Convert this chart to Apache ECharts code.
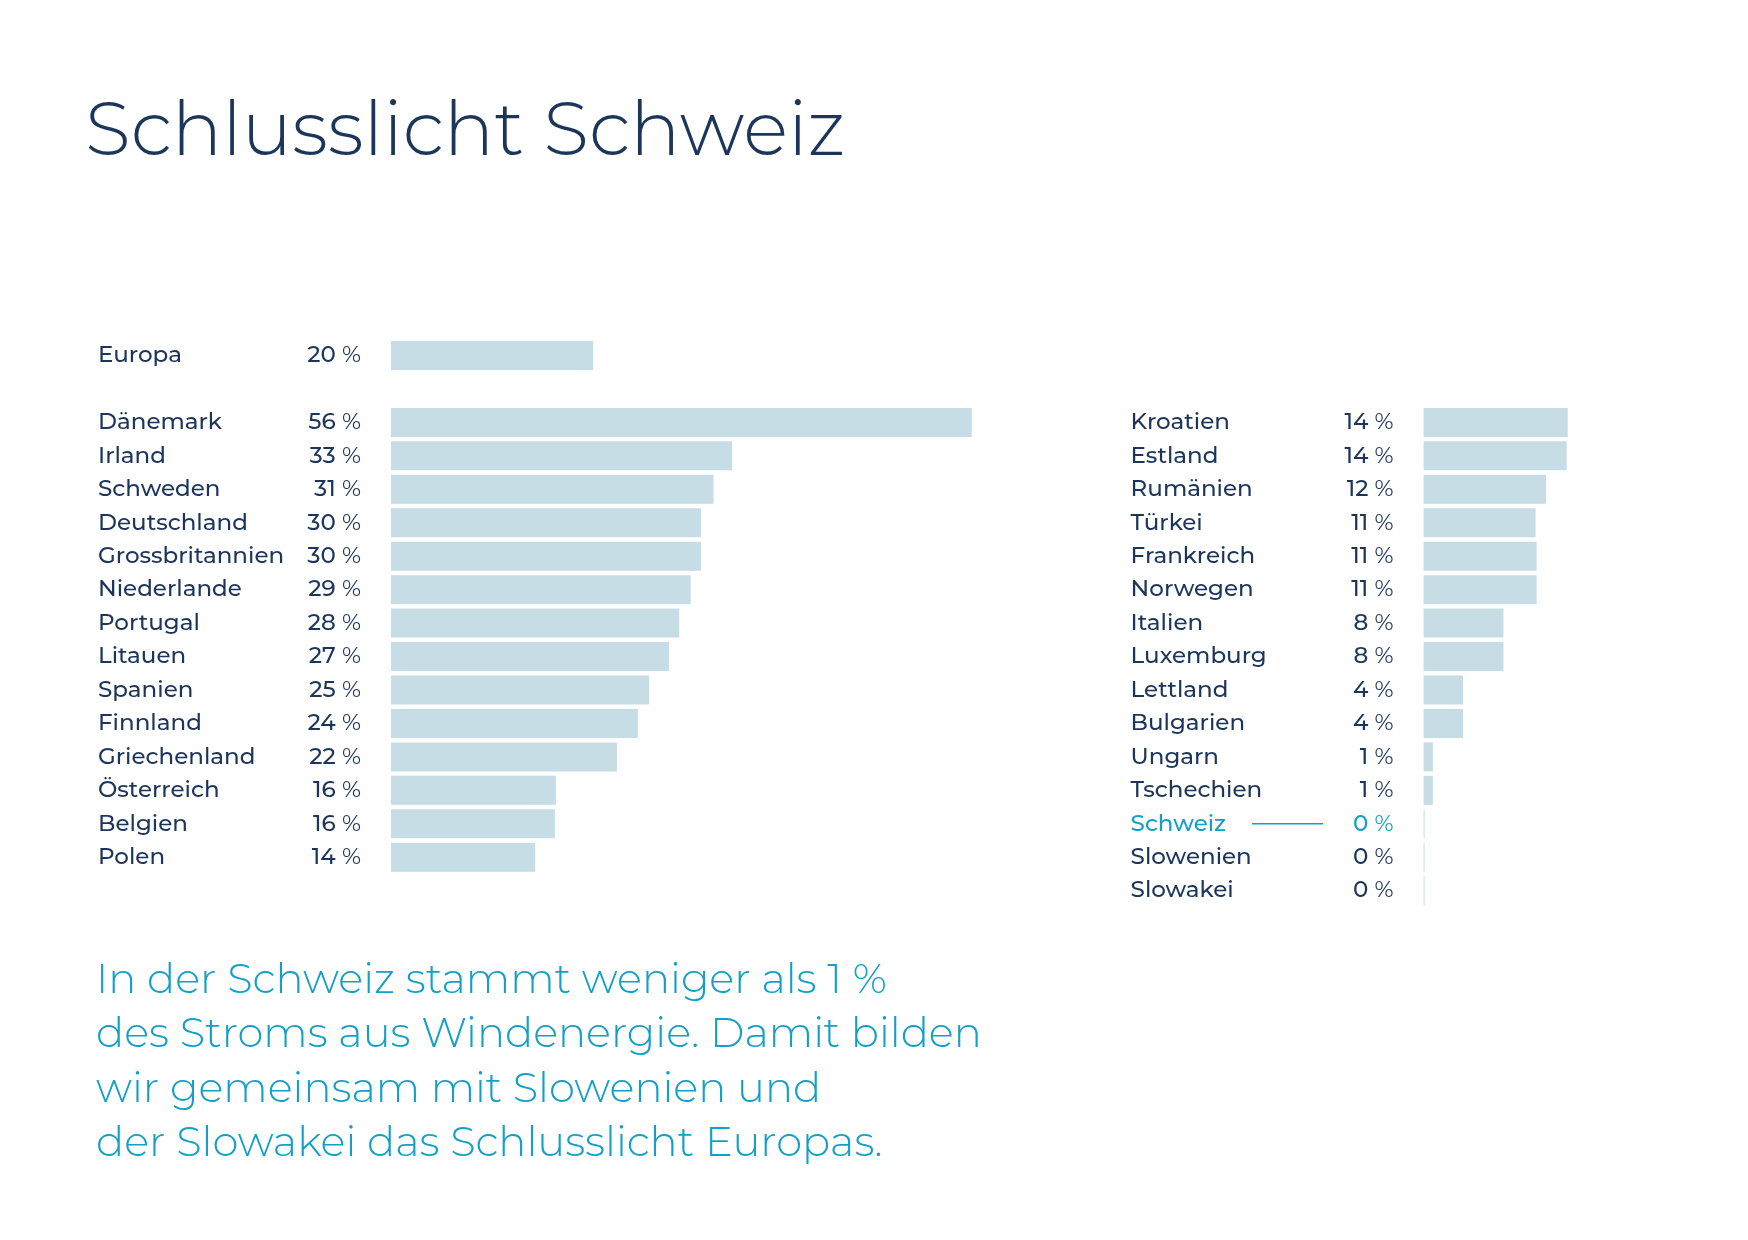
<!DOCTYPE html>
<html>
<head>
<meta charset="utf-8">
<script src="https://cdn.jsdelivr.net/npm/echarts@6/dist/echarts.min.js"></script>
<style>
  html, body { margin: 0; padding: 0; background: #fff; }
  #main { width: 1748px; height: 1240px; }
</style>
</head>
<body>
<div id="main"></div>
<script>
// Windenergie-Anteil am Strom (in %)
var leftNames = ['Europa', '', 'Dänemark', 'Irland', 'Schweden', 'Deutschland', 'Grossbritannien',
  'Niederlande', 'Portugal', 'Litauen', 'Spanien', 'Finnland', 'Griechenland', 'Österreich', 'Belgien', 'Polen'];
var leftValues = [19.5, null, 56, 32.9, 31.1, 29.9, 29.9, 28.9, 27.8, 26.8, 24.9, 23.8, 21.8, 15.9, 15.8, 13.9];
var leftLabels = ['20', '', '56', '33', '31', '30', '30', '29', '28', '27', '25',
  '24', '22', '16', '16', '14'];

var rightNames = ['Kroatien', 'Estland', 'Rumänien', 'Türkei', 'Frankreich', 'Norwegen', 'Italien',
  'Luxemburg', 'Lettland', 'Bulgarien', 'Ungarn', 'Tschechien', 'Schweiz', 'Slowenien', 'Slowakei'];
var rightValues = [13.9, 13.8, 11.8, 10.8, 10.9, 10.9, 7.7, 7.7, 3.8, 3.8, 0.9, 0.9, 0, 0, 0];
var rightLabels = ['14', '14', '12', '11', '11', '11', '8', '8', '4', '4',
  '1', '1', '0', '0', '0'];

var highlight = 'Schweiz';

var navy = '#1b355b';
var teal = '#14a0c6';
var barColor = '#c6dde5';
var font = 'Montserrat, "Noto Sans", sans-serif';

var chart = echarts.init(document.getElementById('main'));

var rowH = 33.45;
var pxPerPct = 10.37;
var fs = 23;

function catData(names) {
  return names.map(function (n) {
    return n === highlight ? { value: n, textStyle: { color: teal, align: 'left' } } : n;
  });
}

function yAxisFor(idx, names) {
  return {
    type: 'category',
    gridIndex: idx,
    inverse: true,
    data: catData(names),
    axisLine: { show: false },
    axisTick: { show: false },
    splitLine: { show: false },
    axisLabel: {
      align: 'left',
      margin: 293,
      fontSize: fs,
      fontFamily: font,
      fontWeight: 500,
      color: navy
    }
  };
}

function pctRich(color) {
  return {
    n: { fontSize: fs, fontFamily: font, fontWeight: 500, color: color },
    p: { fontSize: fs, fontFamily: font, fontWeight: 400, color: color }
  };
}

function seriesFor(idx, names, values, labels) {
  return {
    type: 'bar',
    xAxisIndex: idx,
    yAxisIndex: idx,
    barWidth: 29,
    barMinHeight: 1,
    silent: true,
    itemStyle: { color: barColor },
    data: values.map(function (v, i) {
      if (v === null) return '-';
      return names[i] === highlight ? { value: v, label: { rich: pctRich(teal) } } : v;
    }),
    label: {
      show: true,
      position: [-30, '50%'],
      align: 'right',
      verticalAlign: 'middle',
      rich: pctRich(navy),
      formatter: function (p) {
        return labels[p.dataIndex] ? '{n|' + labels[p.dataIndex] + ' }{p|%}' : '';
      }
    }
  };
}

var option = {
  animation: false,
  backgroundColor: '#fff',
  grid: [
    { left: 391, top: 355.5 - rowH / 2, width: 60 * pxPerPct, height: rowH * leftNames.length },
    { left: 1423.6, top: 422.4 - rowH / 2, width: 20 * pxPerPct, height: rowH * rightNames.length }
  ],
  xAxis: [
    { type: 'value', gridIndex: 0, min: 0, max: 60, show: false },
    { type: 'value', gridIndex: 1, min: 0, max: 20, show: false }
  ],
  yAxis: [yAxisFor(0, leftNames), yAxisFor(1, rightNames)],
  series: [
    seriesFor(0, leftNames, leftValues, leftLabels),
    seriesFor(1, rightNames, rightValues, rightLabels)
  ],
  graphic: [
    {
      type: 'text',
      id: 'title',
      left: 85,
      top: 95,
      style: {
        text: 'Schlusslicht Schweiz',
        fontSize: 75,
        fontFamily: font,
        fontWeight: 300,
        fill: navy
      }
    },
    {
      type: 'text',
      id: 'note',
      left: 96,
      top: 953,
      style: {
        text: 'In der Schweiz stammt weniger als 1 %\ndes Stroms aus Windenergie. Damit bilden\nwir gemeinsam mit Slowenien und\nder Slowakei das Schlusslicht Europas.',
        fontSize: 41.7,
        lineHeight: 54.5,
        fontFamily: font,
        fontWeight: 300,
        fill: teal
      }
    }
  ]
};

chart.setOption(option);

// Verbindungslinie zwischen "Schweiz" und "0 %"
var yS = chart.convertToPixel({ yAxisIndex: 1 }, highlight);
chart.setOption({
  graphic: [{
    type: 'line',
    id: 'connector',
    shape: { x1: 1252, y1: yS, x2: 1323, y2: yS },
    style: { stroke: teal, lineWidth: 1.5 }
  }]
});
</script>
</body>
</html>
